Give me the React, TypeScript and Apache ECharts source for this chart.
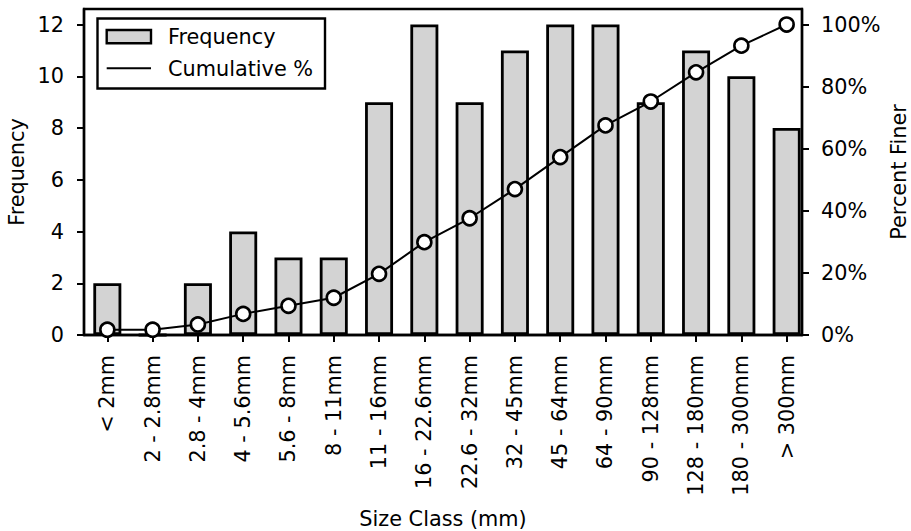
import React, { useEffect, useRef } from "react";
import * as echarts from "echarts";

const categories = [
  "< 2mm", "2 - 2.8mm", "2.8 - 4mm", "4 - 5.6mm", "5.6 - 8mm", "8 - 11mm",
  "11 - 16mm", "16 - 22.6mm", "22.6 - 32mm", "32 - 45mm", "45 - 64mm",
  "64 - 90mm", "90 - 128mm", "128 - 180mm", "180 - 300mm", "> 300mm",
];
const frequency = [2, 0, 2, 4, 3, 3, 9, 12, 9, 11, 12, 12, 9, 11, 10, 8];
const cumulativePct = [1.7, 1.7, 3.4, 6.8, 9.4, 12.0, 19.7, 29.9, 37.6, 47.0, 57.3, 67.5, 75.2, 84.6, 93.2, 100.0];
const freqTicks = [0, 2, 4, 6, 8, 10, 12];
const pctTicks = [0, 20, 40, 60, 80, 100];

const FONT = "DejaVu Sans";
const FS = 20.8;

export default function App() {
  const ref = useRef<HTMLDivElement>(null);
  useEffect(() => {
    if (!ref.current) return;
    const chart = echarts.init(ref.current, null, { renderer: "svg" });
    const idx = categories.map((_, i) => i);
    const option = {
      animation: false,
      backgroundColor: "#ffffff",
      textStyle: { fontFamily: FONT },
      grid: {
        left: 84, top: 9, right: 109, bottom: 196,
        show: true, borderColor: "#000", borderWidth: 2.4, backgroundColor: "transparent",
      },
      xAxis: {
        type: "value",
        min: -0.515,
        max: 15.339,
        splitLine: { show: false },
        axisLine: { show: true, onZero: false, lineStyle: { color: "#000", width: 2.4 } },
        axisTick: { show: true, customValues: idx, length: 7, lineStyle: { color: "#000", width: 2 } },
        axisLabel: {
          customValues: idx,
          rotate: 90,
          margin: 20,
          color: "#000",
          fontFamily: FONT,
          fontSize: FS,
          formatter: (v: number) => categories[Math.round(v)] ?? "",
        },
      },
      yAxis: [
        {
          type: "value",
          min: 0,
          max: 12.6,
          splitLine: { show: false },
          axisLine: { show: true, onZero: false, lineStyle: { color: "#000", width: 2.4 } },
          axisTick: { show: true, customValues: freqTicks, length: 7, lineStyle: { color: "#000", width: 2 } },
          axisLabel: { customValues: freqTicks, margin: 20, color: "#000", fontFamily: FONT, fontSize: FS },
        },
        {
          type: "value",
          min: 0,
          max: 105,
          position: "right",
          splitLine: { show: false },
          axisLine: { show: true, onZero: false, lineStyle: { color: "#000", width: 2.4 } },
          axisTick: { show: true, customValues: pctTicks, length: 7, lineStyle: { color: "#000", width: 2 } },
          axisLabel: {
            customValues: pctTicks, margin: 19, color: "#000", fontFamily: FONT, fontSize: FS,
            formatter: (v: number) => `${v}%`,
          },
        },
      ],
      series: [
        {
          name: "Frequency",
          type: "bar",
          yAxisIndex: 0,
          barWidth: 28,
          data: frequency.map((f, i) => [i, f]),
          itemStyle: { color: "#d3d3d3", borderColor: "#000", borderWidth: 2.8 },
          z: 2,
        },
        {
          name: "Cumulative %",
          type: "line",
          yAxisIndex: 1,
          data: cumulativePct.map((c, i) => [i, c]),
          lineStyle: { color: "#000", width: 2 },
          symbol: "circle",
          symbolSize: 14,
          itemStyle: { color: "#fff", borderColor: "#000", borderWidth: 2.6 },
          z: 3,
        },
      ],
      graphic: [
        {
          type: "group",
          z: 100,
          children: [
            { type: "rect", shape: { x: 97.5, y: 18.5, width: 227.5, height: 70 }, style: { fill: "#fff", stroke: "#000", lineWidth: 2.4 } },
            { type: "rect", shape: { x: 106.7, y: 30, width: 44.3, height: 13.3 }, style: { fill: "#d3d3d3", stroke: "#000", lineWidth: 2.4 } },
            { type: "line", shape: { x1: 106.7, y1: 68.3, x2: 151, y2: 68.3 }, style: { stroke: "#000", lineWidth: 2 } },
            { type: "text", x: 168, y: 37, style: { text: "Frequency", font: `${FS}px "${FONT}"`, fill: "#000", verticalAlign: "middle" } },
            { type: "text", x: 168, y: 68.5, style: { text: "Cumulative %", font: `${FS}px "${FONT}"`, fill: "#000", verticalAlign: "middle" } },
          ],
        },
        { type: "text", x: 17, y: 172, rotation: Math.PI / 2, style: { text: "Frequency", font: `${FS}px "${FONT}"`, fill: "#000", align: "center", verticalAlign: "middle" } },
        { type: "text", x: 899, y: 172, rotation: Math.PI / 2, style: { text: "Percent Finer", font: `${FS}px "${FONT}"`, fill: "#000", align: "center", verticalAlign: "middle" } },
        { type: "text", x: 443, y: 519, style: { text: "Size Class (mm)", font: `${FS}px "${FONT}"`, fill: "#000", align: "center", verticalAlign: "middle" } },
      ],
    };
    chart.setOption(option as any);
    return () => chart.dispose();
  }, []);
  return <div ref={ref} style={{ position: "fixed", left: 0, top: 0, width: 911, height: 531 }} />;
}
